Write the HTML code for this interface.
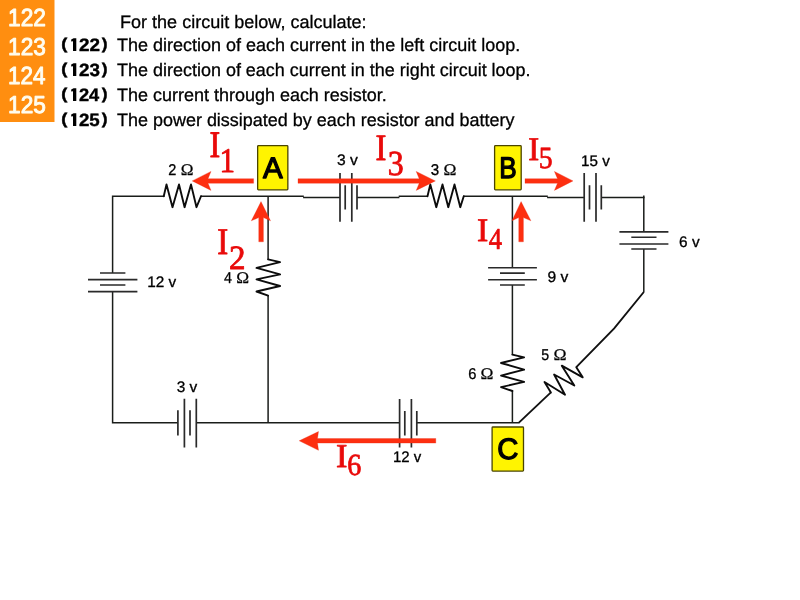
<!DOCTYPE html>
<html>
<head>
<meta charset="utf-8">
<title>Circuit problems 122-125</title>
<style>
  html, body { margin: 0; padding: 0; background: #ffffff; }
  body { width: 800px; height: 600px; overflow: hidden; position: relative;
         font-family: "Liberation Sans", sans-serif; }
  svg { position: absolute; left: 0; top: 0; display: block; will-change: transform; text-rendering: geometricPrecision; }
  .t  { font-family: "Liberation Sans", sans-serif; font-size: 18px; fill: #000; stroke: #000; stroke-width: 0.3px; }
  .w  { stroke: #1a1d1a; stroke-width: 1.5; fill: none; stroke-linecap: butt; stroke-linejoin: miter; }
  .d  { stroke: #111; stroke-width: 1.9; fill: none; stroke-linecap: butt; stroke-linejoin: miter; }
  .bt { stroke: #2a2a2a; stroke-width: 1.7; fill: none; stroke-linecap: butt; }
  .r  { stroke: #0c0c0c; stroke-width: 1.9; fill: none; stroke-linejoin: round; stroke-linecap: round; }
  .a  { fill: #fd2f10; stroke: #e62a14; stroke-width: 0.3; stroke-linejoin: miter; }
  .y  { fill: #fff400; stroke: #4a4500; stroke-width: 1.3; }
</style>
</head>
<body>
<svg width="800" height="600" viewBox="0 0 800 600">
  <!-- orange number tab -->
  <rect x="0" y="0" width="54.5" height="122" fill="#ff8e10"/>

  <!-- problem text -->
  <text class="t" x="120" y="27.8" textLength="246.6" lengthAdjust="spacingAndGlyphs">For the circuit below, calculate:</text>
  <text class="t" x="117" y="50.9" textLength="403.2" lengthAdjust="spacingAndGlyphs">The direction of each current in the left circuit loop.</text>
  <text class="t" x="117" y="75.9" textLength="413.6" lengthAdjust="spacingAndGlyphs">The direction of each current in the right circuit loop.</text>
  <text class="t" x="117" y="100.9" textLength="269.8" lengthAdjust="spacingAndGlyphs">The current through each resistor.</text>
  <text class="t" x="117" y="125.9" textLength="397.5" lengthAdjust="spacingAndGlyphs">The power dissipated by each resistor and battery</text>

  <!-- ===== wires ===== -->
  <path class="w" d="M112.6 273 V196.25 H164.5"/>
  <path class="w" d="M200.5 196.25 H303.8 M303.1 197.4 H340 M357 197.4 H399.4 M398.7 196.25 H428"/>
  <path class="w" d="M463.3 196.25 H547.8 M547.1 197.4 H584.2 M601.3 197.4 H644.5"/>
  <path class="w" d="M643.8 195.5 V232 M643.8 249 V292.3"/>
  <path class="d" d="M643.8 292 L614.2 328.3 L576.3 367.2"/>
  <path class="d" d="M550.9 392.4 L518.9 422.6"/>
  <path class="w" d="M112.6 291.6 V422.8 H178 M196.3 422.8 H399.6 M416.8 422.8 H519.6"/>
  <path class="w" d="M268.1 196.25 V259.6 M268.1 295.4 V422.8"/>
  <path class="w" d="M512.4 196.25 V267.8 M512.4 285 V354.8 M512.4 390.8 V422.8"/>

  <!-- ===== resistors ===== -->
  <path class="r" d="M163.75 196.25 L166.5 184.4 L172.5 207.2 L179 184.4 L184.6 207.2 L191 184.4 L196.5 207.2 L201 196.25"/>
  <path class="r" d="M427.5 196.25 L430.3 184.4 L436.3 207.2 L442.5 184.4 L448.3 207.2 L454.5 184.4 L460.3 207.2 L463.75 196.25"/>
  <path class="r" d="M268.1 259.4 L280.1 262.1 L256.5 267.9 L280.1 274.4 L256.5 279.4 L280.1 286 L256.5 291.5 L268.1 295.6"/>
  <path class="r" d="M512.4 354.6 L524.1 357.4 L501.05 363 L524.1 369.65 L501.05 375.6 L524.1 381.9 L501.05 387.15 L512.4 391"/>
  <path class="r" d="M550.9 392.4 L544.5 382 L565 394.8 L554.1 374.5 L574.3 385.5 L561.8 365.7 L582.7 377.3 L576.3 367.2"/>

  <!-- ===== batteries ===== -->
  <path class="bt" d="M100 273 H125.4 M88 279.6 H137.4 M100 285 H125.4 M88 291.6 H137.4"/>
  <path class="bt" d="M340 173 V221.8 M345.2 185.3 V209.6 M351.8 173 V221.8 M357 185.3 V209.6"/>
  <path class="bt" d="M584.2 173 V221.8 M589.5 185.3 V209.6 M596 173 V221.8 M601.3 185.3 V209.6"/>
  <path class="bt" d="M619.4 231.9 H668.4 M631.3 237.25 H656.5 M619.4 244 H668.4 M631.3 249 H656.5"/>
  <path class="bt" d="M488.1 267.75 H536.9 M500 273.1 H524.8 M488.1 279.75 H536.9 M500 285 H524.8"/>
  <path class="bt" d="M177.9 410.3 V435.6 M184.4 398.8 V447.5 M190 410.3 V435.6 M196.3 398.8 V447.5"/>
  <path class="bt" d="M399.6 399 V447.6 M404.8 411 V435.6 M411.4 399 V447.6 M416.8 411 V435.6"/>

  <!-- ===== node boxes ===== -->
  <rect class="y" x="257.65" y="145.65" width="30.2" height="44.2" rx="0.8"/>
  <rect class="y" x="494.6" y="145.65" width="26.6" height="44.2" rx="0.8"/>
  <rect class="y" x="492.1" y="427" width="31.4" height="44.1" rx="0.8"/>

  <!-- ===== current arrows ===== -->
  <path class="a" d="M192.2 180.9 L211 171.4 L208 178.65 H253.6 V183.25 H208 L211 190.4 Z"/>
  <path class="a" d="M435.4 180.9 L416.2 171.4 L419.2 178.65 H298 V183.25 H419.2 L416.2 190.4 Z"/>
  <path class="a" d="M573 180.9 L554.4 171.4 L557.5 178.65 H525 V183.25 H557.5 L554.4 190.4 Z"/>
  <path class="a" d="M261 201.6 L251.3 220.8 L258.75 217.6 V241.8 H263.4 V217.6 L270.5 220.8 Z"/>
  <path class="a" d="M521.1 201.6 L512 220.8 L518.75 217.6 V241.8 H523.4 V217.6 L530.9 220.8 Z"/>
  <path class="a" d="M299.2 440.8 L318.5 431.5 L317.5 438.5 H435.8 V443.1 H317.5 L318.5 450.3 Z"/>

  <!-- ===== fitted text ===== -->
  <text transform="translate(209.50 156.93) scale(0.858 1.000)" font-family="Liberation Serif" font-size="37.41" fill="#e90a0a" stroke="#e90a0a" stroke-width="0.90" stroke-linejoin="round">I</text>
  <text transform="translate(219.47 172.31) scale(0.901 1.000)" font-family="Liberation Serif" font-size="34.49" fill="#e90a0a" stroke="#e90a0a" stroke-width="0.83" stroke-linejoin="round">1</text>
  <text transform="translate(375.48 159.78) scale(0.878 1.000)" font-family="Liberation Serif" font-size="37.19" fill="#e90a0a" stroke="#e90a0a" stroke-width="0.89" stroke-linejoin="round">I</text>
  <text transform="translate(387.69 175.30) scale(0.903 1.000)" font-family="Liberation Serif" font-size="35.22" fill="#e90a0a" stroke="#e90a0a" stroke-width="0.85" stroke-linejoin="round">3</text>
  <text transform="translate(528.23 159.82) scale(1.001 1.000)" font-family="Liberation Serif" font-size="32.96" fill="#e90a0a" stroke="#e90a0a" stroke-width="0.79" stroke-linejoin="round">I</text>
  <text transform="translate(538.80 167.88) scale(0.894 1.000)" font-family="Liberation Serif" font-size="30.95" fill="#e90a0a" stroke="#e90a0a" stroke-width="0.74" stroke-linejoin="round">5</text>
  <text transform="translate(217.23 253.77) scale(0.878 1.000)" font-family="Liberation Serif" font-size="37.56" fill="#e90a0a" stroke="#e90a0a" stroke-width="0.90" stroke-linejoin="round">I</text>
  <text transform="translate(229.06 268.81) scale(0.973 1.000)" font-family="Liberation Serif" font-size="33.97" fill="#e90a0a" stroke="#e90a0a" stroke-width="0.82" stroke-linejoin="round">2</text>
  <text transform="translate(476.95 240.67) scale(1.030 1.000)" font-family="Liberation Serif" font-size="32.89" fill="#e90a0a" stroke="#e90a0a" stroke-width="0.79" stroke-linejoin="round">I</text>
  <text transform="translate(488.78 249.10) scale(0.878 1.000)" font-family="Liberation Serif" font-size="30.29" fill="#e90a0a" stroke="#e90a0a" stroke-width="0.73" stroke-linejoin="round">4</text>
  <text transform="translate(335.94 466.97) scale(1.032 1.000)" font-family="Liberation Serif" font-size="33.33" fill="#e90a0a" stroke="#e90a0a" stroke-width="0.80" stroke-linejoin="round">I</text>
  <text transform="translate(347.21 474.79) scale(0.915 1.000)" font-family="Liberation Serif" font-size="30.72" fill="#e90a0a" stroke="#e90a0a" stroke-width="0.74" stroke-linejoin="round">6</text>
  <text transform="translate(262.99 178.26) scale(0.995 1.000)" font-family="Liberation Sans" font-size="29.66" fill="#000" stroke="#000" stroke-width="1.28" stroke-linejoin="round">A</text>
  <text transform="translate(499.33 178.40) scale(0.876 1.000)" font-family="Liberation Sans" font-size="29.86" fill="#000" stroke="#000" stroke-width="1.28" stroke-linejoin="round">B</text>
  <text transform="translate(497.17 459.36) scale(0.988 1.000)" font-family="Liberation Sans" font-size="29.60" fill="#000" stroke="#000" stroke-width="1.27" stroke-linejoin="round">C</text>
  <text transform="translate(337.03 164.50) scale(1.023 1.000)" font-family="Liberation Sans" font-size="15.30" fill="#000" stroke="#000" stroke-width="0.31" stroke-linejoin="round">3 v</text>
  <text transform="translate(581.11 165.70) scale(0.993 1.000)" font-family="Liberation Sans" font-size="15.30" fill="#000" stroke="#000" stroke-width="0.31" stroke-linejoin="round">15 v</text>
  <text transform="translate(679.08 246.90) scale(1.006 1.000)" font-family="Liberation Sans" font-size="15.30" fill="#000" stroke="#000" stroke-width="0.31" stroke-linejoin="round">6 v</text>
  <text transform="translate(547.50 282.40) scale(1.022 1.000)" font-family="Liberation Sans" font-size="15.30" fill="#000" stroke="#000" stroke-width="0.31" stroke-linejoin="round">9 v</text>
  <text transform="translate(147.20 286.70) scale(1.004 1.000)" font-family="Liberation Sans" font-size="15.30" fill="#000" stroke="#000" stroke-width="0.31" stroke-linejoin="round">12 v</text>
  <text transform="translate(176.74 391.50) scale(1.010 1.000)" font-family="Liberation Sans" font-size="15.30" fill="#000" stroke="#000" stroke-width="0.31" stroke-linejoin="round">3 v</text>
  <text transform="translate(392.93 461.90) scale(0.979 1.000)" font-family="Liberation Sans" font-size="15.30" fill="#000" stroke="#000" stroke-width="0.31" stroke-linejoin="round">12 v</text>
  <text transform="translate(168.22 175.30) scale(0.931 1.000)" font-family="Liberation Sans" font-size="15.61" fill="#000" stroke="#000" stroke-width="0.31" stroke-linejoin="round">2</text>
  <text transform="translate(180.78 175.30) scale(1.059 1.000)" font-family="Liberation Serif" font-size="16.22" fill="#000" stroke="#000" stroke-width="0.26" stroke-linejoin="round">&#937;</text>
  <text transform="translate(430.85 175.30) scale(0.968 1.000)" font-family="Liberation Sans" font-size="15.61" fill="#000" stroke="#000" stroke-width="0.31" stroke-linejoin="round">3</text>
  <text transform="translate(443.52 175.30) scale(1.073 1.000)" font-family="Liberation Serif" font-size="16.22" fill="#000" stroke="#000" stroke-width="0.26" stroke-linejoin="round">&#937;</text>
  <text transform="translate(224.09 283.00) scale(0.912 1.000)" font-family="Liberation Sans" font-size="15.61" fill="#000" stroke="#000" stroke-width="0.31" stroke-linejoin="round">4</text>
  <text transform="translate(236.32 283.00) scale(1.068 1.000)" font-family="Liberation Serif" font-size="16.22" fill="#000" stroke="#000" stroke-width="0.26" stroke-linejoin="round">&#937;</text>
  <text transform="translate(468.36 379.00) scale(0.941 1.000)" font-family="Liberation Sans" font-size="15.61" fill="#000" stroke="#000" stroke-width="0.31" stroke-linejoin="round">6</text>
  <text transform="translate(480.52 379.00) scale(1.073 1.000)" font-family="Liberation Serif" font-size="16.22" fill="#000" stroke="#000" stroke-width="0.26" stroke-linejoin="round">&#937;</text>
  <text transform="translate(541.18 360.30) scale(0.906 1.000)" font-family="Liberation Sans" font-size="15.61" fill="#000" stroke="#000" stroke-width="0.31" stroke-linejoin="round">5</text>
  <text transform="translate(553.51 360.30) scale(1.083 1.000)" font-family="Liberation Serif" font-size="16.22" fill="#000" stroke="#000" stroke-width="0.26" stroke-linejoin="round">&#937;</text>
  <text transform="translate(8.05 26.40) scale(0.913 1.000)" font-family="Liberation Sans" font-size="24.86" fill="#fffdf0" stroke="#fffdf0" stroke-width="0.99" stroke-linejoin="round">122</text>
  <text transform="translate(8.05 55.16) scale(0.923 1.000)" font-family="Liberation Sans" font-size="24.53" fill="#fffdf0" stroke="#fffdf0" stroke-width="0.98" stroke-linejoin="round">123</text>
  <text transform="translate(8.07 84.40) scale(0.902 1.000)" font-family="Liberation Sans" font-size="24.86" fill="#fffdf0" stroke="#fffdf0" stroke-width="0.99" stroke-linejoin="round">124</text>
  <text transform="translate(8.05 113.16) scale(0.923 1.000)" font-family="Liberation Sans" font-size="24.53" fill="#fffdf0" stroke="#fffdf0" stroke-width="0.98" stroke-linejoin="round">125</text>
  <text transform="translate(61.26 49.18) scale(0.968 0.824)" font-family="Liberation Sans" font-size="19.00" font-weight="bold" fill="#000" stroke="#000" stroke-width="0.57" stroke-linejoin="round">(</text>
  <text transform="translate(78.93 51.02) scale(1.045 1.000)" font-family="Liberation Sans" font-size="18.06" font-weight="bold" fill="#000" stroke="#000" stroke-width="0.40" stroke-linejoin="round">22</text>
  <text transform="translate(101.66 49.18) scale(0.902 0.824)" font-family="Liberation Sans" font-size="19.00" font-weight="bold" fill="#000" stroke="#000" stroke-width="0.57" stroke-linejoin="round">)</text>
  <text transform="translate(61.26 74.18) scale(0.968 0.824)" font-family="Liberation Sans" font-size="19.00" font-weight="bold" fill="#000" stroke="#000" stroke-width="0.57" stroke-linejoin="round">(</text>
  <text transform="translate(78.93 75.84) scale(1.060 1.000)" font-family="Liberation Sans" font-size="17.81" font-weight="bold" fill="#000" stroke="#000" stroke-width="0.39" stroke-linejoin="round">23</text>
  <text transform="translate(101.66 74.18) scale(0.902 0.824)" font-family="Liberation Sans" font-size="19.00" font-weight="bold" fill="#000" stroke="#000" stroke-width="0.57" stroke-linejoin="round">)</text>
  <text transform="translate(61.26 99.18) scale(0.968 0.824)" font-family="Liberation Sans" font-size="19.00" font-weight="bold" fill="#000" stroke="#000" stroke-width="0.57" stroke-linejoin="round">(</text>
  <text transform="translate(78.94 101.02) scale(1.012 1.000)" font-family="Liberation Sans" font-size="18.06" font-weight="bold" fill="#000" stroke="#000" stroke-width="0.40" stroke-linejoin="round">24</text>
  <text transform="translate(101.66 99.18) scale(0.902 0.824)" font-family="Liberation Sans" font-size="19.00" font-weight="bold" fill="#000" stroke="#000" stroke-width="0.57" stroke-linejoin="round">)</text>
  <text transform="translate(61.26 124.18) scale(0.968 0.824)" font-family="Liberation Sans" font-size="19.00" font-weight="bold" fill="#000" stroke="#000" stroke-width="0.57" stroke-linejoin="round">(</text>
  <text transform="translate(78.93 125.84) scale(1.050 1.000)" font-family="Liberation Sans" font-size="17.81" font-weight="bold" fill="#000" stroke="#000" stroke-width="0.39" stroke-linejoin="round">25</text>
  <text transform="translate(101.66 124.18) scale(0.902 0.824)" font-family="Liberation Sans" font-size="19.00" font-weight="bold" fill="#000" stroke="#000" stroke-width="0.57" stroke-linejoin="round">)</text>
  <path fill="#000" d="M71.2 39.60 L73.6 38.35 H76.3 V51.00 H73.0 V41.20 L71.2 41.50 Z"/>
  <path fill="#000" d="M71.2 64.60 L73.6 63.35 H76.3 V76.00 H73.0 V66.20 L71.2 66.50 Z"/>
  <path fill="#000" d="M71.2 89.60 L73.6 88.35 H76.3 V101.00 H73.0 V91.20 L71.2 91.50 Z"/>
  <path fill="#000" d="M71.2 114.60 L73.6 113.35 H76.3 V126.00 H73.0 V116.20 L71.2 116.50 Z"/>
</svg>
</body>
</html>
